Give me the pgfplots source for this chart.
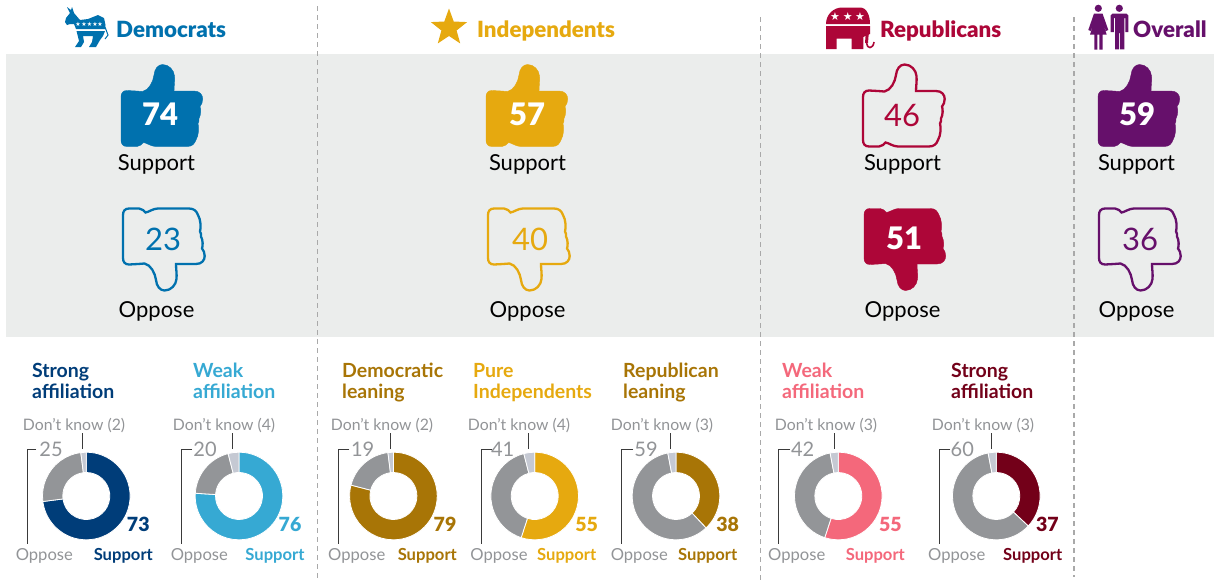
\documentclass[border=0pt]{standalone}
\usepackage{fontspec}
\usepackage{pgfplots}
\pgfplotsset{compat=1.18}
\setmainfont{Lato}
\newfontfamily\blk{Lato Black}
\newfontfamily\djv{DejaVu Sans}
\definecolor{band}{HTML}{EBEDEC}
\definecolor{dem}{HTML}{0071AE}
\definecolor{ind}{HTML}{E6A90F}
\definecolor{rep}{HTML}{AD0638}
\definecolor{allc}{HTML}{66106B}
\definecolor{navy}{HTML}{003D79}
\definecolor{sky}{HTML}{36A9D3}
\definecolor{lean}{HTML}{A87506}
\definecolor{pinkc}{HTML}{F4687B}
\definecolor{wine}{HTML}{730019}
\definecolor{opp}{HTML}{939598}
\definecolor{dkc}{HTML}{C5C9D3}
\definecolor{lab}{HTML}{929497}
\definecolor{dashc}{HTML}{A9A9A9}
\definecolor{tickc}{HTML}{3A3A3A}
\def\thumbpath{(-39pt,8pt) .. controls (-39pt,12pt) and (-37pt,14.5pt) .. (-33pt,14.5pt)
 -- (-24pt,14pt) -- (-17.5pt,13.5pt)
 .. controls (-11pt,15pt) and (-7pt,23pt) .. (-6pt,30pt)
 .. controls (-5.5pt,36pt) and (-2pt,40.5pt) .. (2.5pt,40.5pt)
 .. controls (9pt,40.5pt) and (14pt,35pt) .. (14.5pt,29pt)
 .. controls (15pt,24pt) and (14pt,19pt) .. (14pt,14pt)
 -- (34pt,14pt) .. controls (40pt,14pt) and (42.7pt,10pt) .. (42.7pt,6pt)
 .. controls (42.7pt,3pt) and (41.5pt,0pt) .. (40pt,-1.5pt)
 .. controls (41pt,-4pt) and (41pt,-10pt) .. (39pt,-13.5pt)
 .. controls (39.5pt,-16pt) and (38.5pt,-17pt) .. (38pt,-18.5pt)
 .. controls (39pt,-22pt) and (39pt,-30pt) .. (36pt,-35pt)
 .. controls (34.5pt,-39pt) and (32pt,-41.5pt) .. (27pt,-41.5pt)
 -- (-4pt,-41.5pt) .. controls (-9pt,-41.5pt) and (-13pt,-38pt) .. (-16.5pt,-37.5pt)
 .. controls (-18pt,-39pt) and (-20pt,-41.5pt) .. (-23pt,-41.5pt)
 -- (-33pt,-41.5pt) .. controls (-37pt,-41.5pt) and (-39pt,-39pt) .. (-39pt,-35pt) -- cycle}
\pgfdeclareplotmark{upfill}{\fill \thumbpath;}
\pgfdeclareplotmark{upline}{\draw[line width=2.3pt] \thumbpath;}
\pgfdeclareplotmark{downfill}{\pgftransformyscale{-1}\fill \thumbpath;}
\pgfdeclareplotmark{downline}{\pgftransformyscale{-1}\draw[line width=2.3pt] \thumbpath;}
\pgfkeys{/sect/.cd,st/.initial=0,val/.initial=0,col/.initial=black}
\pgfdeclareplotmark{sector}{%
 \pgfmathsetmacro\angA{90-3.6*(\pgfkeysvalueof{/sect/st})}%
 \pgfmathsetmacro\angB{\angA-3.6*(\pgfkeysvalueof{/sect/val})}%
 \path[fill=\pgfkeysvalueof{/sect/col},draw=white,line width=.8pt] (\angA:43.8pt) arc[start angle=\angA,end angle=\angB,radius=43.8pt] -- (\angB:23.5pt) arc[start angle=\angB,end angle=\angA,radius=23.5pt] -- cycle;}
% one donut: centre x, then support, oppose, don't know, support colour
\newcommand\donut[5]{%
 \addplot[only marks,mark=sector,mark options={/sect/st=0,/sect/val=#2,/sect/col=#5}] coordinates {(#1,496)};
 \addplot[only marks,mark=sector,mark options={/sect/st=#2,/sect/val=#3,/sect/col=opp}] coordinates {(#1,496)};
 \addplot[only marks,mark=sector,mark options={/sect/st=100-#4,/sect/val=#4,/sect/col=dkc}] coordinates {(#1,496)};}
\newcommand\fs[1]{\fontsize{#1}{#1}\selectfont}
\newcommand\txt[5][]{\node[anchor=base,inner sep=0pt,yshift=-0.7pt,text=#4,#1] at (axis cs:#2,#3) {#5};}
\newcommand\head[5]{\node[anchor=base west,inner sep=0pt,yshift=-0.7pt,text=#3,font=\blk\fs{#4}] at (axis cs:#1,#2) {#5};}
\newcommand\sub[4]{%
 \node[anchor=base west,inner sep=0pt,yshift=-0.7pt,text=#2,font=\bfseries\fs{19.5}] at (axis cs:#1,376.7) {#3};
 \node[anchor=base west,inner sep=0pt,yshift=-0.7pt,text=#2,font=\bfseries\fs{19.5}] at (axis cs:#1,397.7) {#4};}
\newcommand\leads[3]{\addplot[tickc,line width=1pt,forget plot] coordinates {(#1,433) (#1,449)};
 \addplot[tickc,line width=1pt,forget plot] coordinates {(#3,449) (#2,449) (#2,543.5)};}
\begin{document}
\begin{tikzpicture}
\begin{axis}[at={(0pt,0pt)},anchor=south west,scale only axis,width=1215pt,height=584pt,
 xmin=0,xmax=1215,ymin=0,ymax=584,y dir=reverse,hide axis,clip=false,clip marker paths=true]
\fill[white] (axis cs:0,0) rectangle (axis cs:1215,584);
\fill[band] (axis cs:6,54) rectangle (axis cs:1214,337);
\addplot[dashc,line width=1.2pt,dash pattern=on 5pt off 4pt] coordinates {(317.5,6) (317.5,580)};
\addplot[dashc,line width=1.2pt,dash pattern=on 5pt off 4pt] coordinates {(760.5,17) (760.5,580)};
\addplot[dashc,line width=1.2pt,dash pattern=on 5pt off 4pt] coordinates {(1074,17) (1074,577)};
% thumbs
\addplot[only marks,mark=upfill,color=dem] coordinates {(160,105)};
\addplot[only marks,mark=upfill,color=ind] coordinates {(525,105)};
\addplot[only marks,mark=upline,color=rep] coordinates {(902,105)};
\addplot[only marks,mark=upfill,color=allc] coordinates {(1137,105)};
\addplot[only marks,mark=downline,color=dem] coordinates {(162,250)};
\addplot[only marks,mark=downline,color=ind] coordinates {(527,250)};
\addplot[only marks,mark=downfill,color=rep] coordinates {(903,250)};
\addplot[only marks,mark=downline,color=allc] coordinates {(1138,250)};
% donuts
\donut{86.3}{73}{25}{2}{navy}
\donut{239}{76}{20}{4}{sky}
\donut{393.4}{79}{19}{2}{lean}
\donut{534.7}{55}{41}{4}{ind}
\donut{676}{38}{59}{3}{lean}
\donut{838.3}{55}{42}{3}{pinkc}
\donut{996.3}{37}{60}{3}{wine}
% lead lines
\leads{82}{27}{36}
\leads{232}{181}{192}
\leads{390.7}{338.3}{349.3}
\leads{528.3}{481}{492}
\leads{670.7}{621.7}{633}
\leads{834.3}{778.7}{790}
\leads{991.7}{939}{950}
% big labels
\txt[font=\fs{22}]{156.5}{170}{black}{Support}
\txt[font=\fs{22}]{527.5}{170}{black}{Support}
\txt[font=\fs{22}]{902.5}{170}{black}{Support}
\txt[font=\fs{22}]{1136.5}{170}{black}{Support}
\txt[font=\fs{22}]{156.5}{317}{black}{Oppose}
\txt[font=\fs{22}]{527.5}{317}{black}{Oppose}
\txt[font=\fs{22}]{902.5}{317}{black}{Oppose}
\txt[font=\fs{22}]{1136.5}{317}{black}{Oppose}
\txt[font=\blk\fs{31}]{160}{125}{white}{74}
\txt[font=\blk\fs{31}]{527}{125}{white}{57}
\txt[font=\fs{31}]{902}{126}{rep}{46}
\txt[font=\blk\fs{31}]{1137}{125}{white}{59}
\txt[font=\fs{31}]{163}{250}{dem}{23}
\txt[font=\fs{31}]{530}{250}{ind}{40}
\txt[font=\blk\fs{31}]{904}{249}{white}{51}
\txt[font=\fs{31}]{1140}{250}{allc}{36}
% headers
\head{116}{37}{dem}{22.3}{Democrats}
\head{477}{37}{ind}{22.3}{Independents}
\head{880}{37}{rep}{22.3}{Republicans}
\head{1133}{37}{allc}{22.3}{Overall}
% star
\fill[ind] (axis cs:449,8.5) -- (axis cs:453.7,21.5) -- (axis cs:467.1,22.1) -- (axis cs:456.6,30.5) -- (axis cs:460.2,43.4) -- (axis cs:449,36) -- (axis cs:437.8,43.4) -- (axis cs:441.4,30.5) -- (axis cs:430.9,22.1) -- (axis cs:444.3,21.5) -- cycle;
% donkey
\fill[dem] (axis cs:65,22) -- (axis cs:66,18) -- (axis cs:70,13) -- (axis cs:67,7) -- (axis cs:71,10) -- (axis cs:72,7) -- (axis cs:74,13) -- (axis cs:80,20) -- (axis cs:88,19) -- (axis cs:98,15) -- (axis cs:104,18) -- (axis cs:105.5,25) -- (axis cs:105,29) -- (axis cs:76,29) -- (axis cs:74,24) -- (axis cs:70,24) -- (axis cs:67,25) -- cycle;
\fill[dem] (axis cs:76.5,31) -- (axis cs:105,31) -- (axis cs:103,36) -- (axis cs:100,40) -- (axis cs:96,47) -- (axis cs:89,47) -- (axis cs:92,42) -- (axis cs:93,36) -- (axis cs:83,36) -- (axis cs:84,42) -- (axis cs:81,47) -- (axis cs:75,47) -- (axis cs:79,41) -- (axis cs:78,37) -- cycle;
\draw[dem,line width=1pt] (axis cs:105,27) -- (axis cs:108,35) -- (axis cs:105,39);
\node[text=white,inner sep=0pt,font=\djv\fs{6}] at (axis cs:78,24) {★};
\node[text=white,inner sep=0pt,font=\djv\fs{6}] at (axis cs:84,24) {★};
\node[text=white,inner sep=0pt,font=\djv\fs{6}] at (axis cs:89.5,24) {★};
\node[text=white,inner sep=0pt,font=\djv\fs{6}] at (axis cs:95,24) {★};
\node[text=white,inner sep=0pt,font=\djv\fs{6}] at (axis cs:100,24) {★};
% elephant
\fill[rep] (axis cs:826,24) .. controls (axis cs:826,14) and (axis cs:834,7.5) .. (axis cs:842,7.5) -- (axis cs:860,7.5) .. controls (axis cs:867,7.5) and (axis cs:870,16) .. (axis cs:870,24) -- cycle;
\fill[rep] (axis cs:826,26) -- (axis cs:870,26) -- (axis cs:870,34) -- (axis cs:863.3,37) -- (axis cs:863.3,49) -- (axis cs:851.7,49) -- (axis cs:851.7,38.5) -- (axis cs:836.7,38.5) -- (axis cs:836.7,49) -- (axis cs:826,49) -- cycle;
\draw[rep,line width=3pt] (axis cs:867.5,30) -- (axis cs:866.5,43);
\draw[rep,line width=1.6pt] (axis cs:866.5,43) .. controls (axis cs:867,49) and (axis cs:873,49.5) .. (axis cs:874,42);
\node[text=white,inner sep=0pt,font=\djv\fs{11}] at (axis cs:835,16.7) {★};
\node[text=white,inner sep=0pt,font=\djv\fs{11}] at (axis cs:847.7,16.7) {★};
\node[text=white,inner sep=0pt,font=\djv\fs{11}] at (axis cs:860,16.7) {★};
% people
\fill[allc] (axis cs:1098.3,8.3) circle[radius=3.6pt];
\fill[allc] (axis cs:1119.3,8.3) circle[radius=3.6pt];
\fill[allc] (axis cs:1094,13.5) -- (axis cs:1102.5,13.5) -- (axis cs:1108.3,30) -- (axis cs:1106,31) -- (axis cs:1102,20) -- (axis cs:1106.7,34.7) -- (axis cs:1102.7,34.7) -- (axis cs:1102.7,49.5) -- (axis cs:1099.3,49.5) -- (axis cs:1099.3,34.7) -- (axis cs:1097.3,34.7) -- (axis cs:1097.3,49.5) -- (axis cs:1094.3,49.5) -- (axis cs:1094.3,34.7) -- (axis cs:1090,34.7) -- (axis cs:1094.5,20) -- (axis cs:1090.6,31) -- (axis cs:1088.3,30) -- cycle;
\fill[allc] (axis cs:1112.5,13.5) -- (axis cs:1126.5,13.5) -- (axis cs:1128.3,15.5) -- (axis cs:1128.3,32) -- (axis cs:1125.3,32) -- (axis cs:1125.3,18) -- (axis cs:1124.3,18) -- (axis cs:1124.3,49.3) -- (axis cs:1120,49.3) -- (axis cs:1120,33) -- (axis cs:1119,33) -- (axis cs:1119,49.3) -- (axis cs:1115,49.3) -- (axis cs:1115,18) -- (axis cs:1113.8,18) -- (axis cs:1113.8,32) -- (axis cs:1110.7,32) -- (axis cs:1110.7,15.5) -- cycle;
% subgroups
\sub{32}{navy}{Strong}{affiliation}
\sub{193}{sky}{Weak}{affiliation}
\sub{342}{lean}{Democratic}{leaning}
\sub{473}{ind}{Pure}{Independents}
\sub{623}{lean}{Republican}{leaning}
\sub{782}{pinkc}{Weak}{affiliation}
\sub{951}{wine}{Strong}{affiliation}
% Don't know
\txt[font=\fs{15.8}]{74}{429.3}{lab}{Don’t know (2)}
\txt[font=\fs{15.8}]{224}{429.3}{lab}{Don’t know (4)}
\txt[font=\fs{15.8}]{382}{429.3}{lab}{Don’t know (2)}
\txt[font=\fs{15.8}]{519}{429.3}{lab}{Don’t know (4)}
\txt[font=\fs{15.8}]{662}{429.3}{lab}{Don’t know (3)}
\txt[font=\fs{15.8}]{826}{429.3}{lab}{Don’t know (3)}
\txt[font=\fs{15.8}]{983}{429.3}{lab}{Don’t know (3)}
% oppose values
\txt[font=\fs{20}]{51}{456}{lab}{25}
\txt[font=\fs{20}]{205}{456}{lab}{20}
\txt[font=\fs{20}]{362.7}{456}{lab}{19}
\txt[font=\fs{20}]{502.7}{456}{lab}{41}
\txt[font=\fs{20}]{646}{456}{lab}{59}
\txt[font=\fs{20}]{802.7}{456}{lab}{42}
\txt[font=\fs{20}]{962.3}{456}{lab}{60}
% oppose labels
\txt[font=\fs{16.6}]{44.3}{559.3}{lab}{Oppose}
\txt[font=\fs{16.6}]{199.3}{559.3}{lab}{Oppose}
\txt[font=\fs{16.6}]{356.7}{559.3}{lab}{Oppose}
\txt[font=\fs{16.6}]{499}{559.3}{lab}{Oppose}
\txt[font=\fs{16.6}]{639.3}{559.3}{lab}{Oppose}
\txt[font=\fs{16.6}]{796.7}{559.3}{lab}{Oppose}
\txt[font=\fs{16.6}]{956.7}{559.3}{lab}{Oppose}
% support values
\txt[font=\blk\fs{19.5}]{138.3}{531}{navy}{73}
\txt[font=\blk\fs{19.5}]{290}{531}{sky}{76}
\txt[font=\blk\fs{19.5}]{445}{531}{lean}{79}
\txt[font=\blk\fs{19.5}]{586.7}{531}{ind}{55}
\txt[font=\blk\fs{19.5}]{727.7}{531}{lean}{38}
\txt[font=\blk\fs{19.5}]{890.3}{531}{pinkc}{55}
\txt[font=\blk\fs{19.5}]{1047.3}{531}{wine}{37}
% support labels
\txt[font=\bfseries\fs{16.6}]{123.3}{559.3}{navy}{Support}
\txt[font=\bfseries\fs{16.6}]{275}{559.3}{sky}{Support}
\txt[font=\bfseries\fs{16.6}]{427.3}{559.3}{lean}{Support}
\txt[font=\bfseries\fs{16.6}]{566.7}{559.3}{ind}{Support}
\txt[font=\bfseries\fs{16.6}]{707.7}{559.3}{lean}{Support}
\txt[font=\bfseries\fs{16.6}]{875.3}{559.3}{pinkc}{Support}
\txt[font=\bfseries\fs{16.6}]{1032.7}{559.3}{wine}{Support}
\end{axis}
\end{tikzpicture}
\end{document}
